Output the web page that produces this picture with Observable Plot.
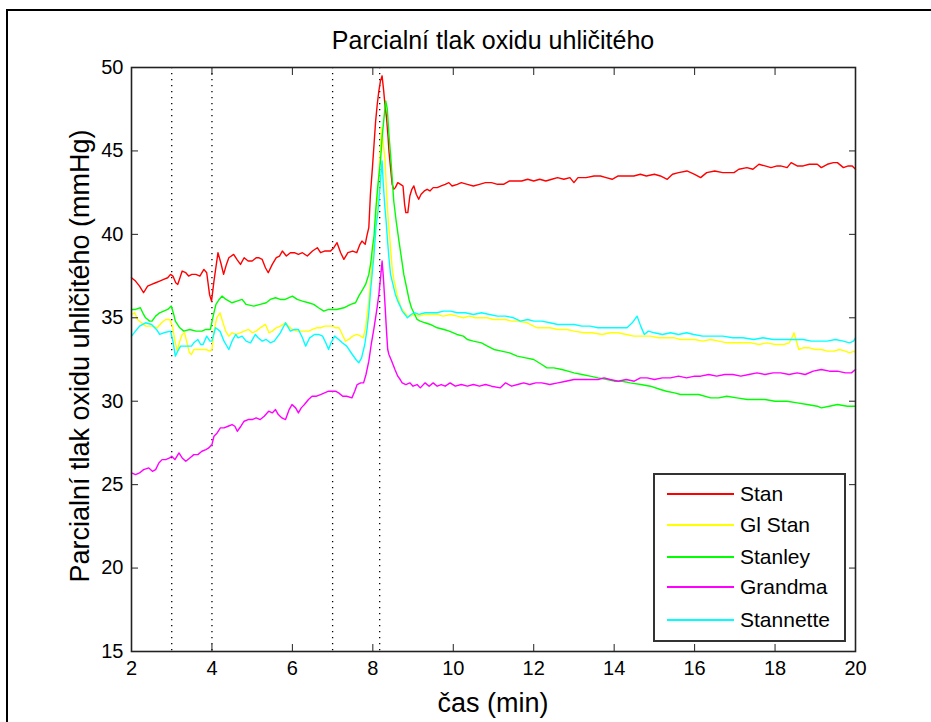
<!DOCTYPE html>
<html>
<head>
<meta charset="utf-8">
<script src="https://cdn.jsdelivr.net/npm/d3@7"></script>
<script src="https://cdn.jsdelivr.net/npm/@observablehq/plot@0.6"></script>
<style>
  html, body { margin: 0; padding: 0; background: #fff; }
  #wrap { position: relative; width: 931px; height: 722px; overflow: hidden; font-family: "Liberation Sans", Arial, sans-serif; }
  #outer { position: absolute; left: 6px; top: 9px; width: 1000px; height: 800px; border-top: 2px solid #000; border-left: 2px solid #000; }
  #chart { position: absolute; left: 0; top: 0; }
  .title { position: absolute; left: 131px; width: 724px; top: 25px; text-align: center; font-size: 25px; line-height: 30px; color: #000; white-space: nowrap; }
  .xlabel { position: absolute; left: 131px; width: 724px; top: 687px; text-align: center; font-size: 27px; line-height: 32px; color: #000; white-space: nowrap; }
  .ylabel { position: absolute; left: 80px; top: 356px; transform: translate(-50%, -50%) rotate(-90deg); font-size: 27px; line-height: 32px; white-space: nowrap; color: #000; }
  #legend { position: absolute; left: 653px; top: 473px; width: 189px; height: 165px; border: 2px solid #333; background: #fff; }
  .row { position: absolute; left: 0; height: 24px; width: 189px; }
  .row .sw { position: absolute; left: 12px; top: 11px; width: 67px; height: 2px; }
  .row .lb { position: absolute; left: 85px; top: 0; font-size: 21px; line-height: 24px; color: #000; white-space: nowrap; }
</style>
</head>
<body>
<div id="wrap">
  <div id="outer"></div>
  <div id="chart"></div>
  <div class="title" id="title"></div>
  <div class="xlabel" id="xlabel"></div>
  <div class="ylabel" id="ylabel"></div>
  <div id="legend"></div>
</div>
<script>
// ---- texts ----
const titleText = "Parcialní tlak oxidu uhličitého";
const xLabelText = "čas (min)";
const yLabelText = "Parcialní tlak oxidu uhličitého (mmHg)";

// ---- ticks ----
const xTicks = [2, 4, 6, 8, 10, 12, 14, 16, 18, 20];
const yTicks = [15, 20, 25, 30, 35, 40, 45, 50];

// ---- vertical dotted event markers (min) ----
const markerTimes = [3, 4, 7, 8.17];

// ---- series names & colours ----
const seriesNames = ["Stan", "Gl Stan", "Stanley", "Grandma", "Stannette"];
const seriesColors = ["#ff0000", "#ffff00", "#00ff00", "#ff00ff", "#00ffff"];

// ---- Stan (red) ----
const stanT = [2.0,2.1,2.2,2.3,2.4,2.5,2.6,2.7,2.8,2.9,2.97,3.03,3.1,3.15,3.26,3.35,3.42,3.5,3.6,3.7,3.8,3.87,3.94,3.99,4.05,4.15,4.22,4.29,4.36,4.42,4.54,4.62,4.71,4.8,4.9,5.0,5.1,5.16,5.25,5.33,5.4,5.5,5.6,5.68,5.75,5.85,5.95,6.05,6.15,6.25,6.37,6.5,6.62,6.7,6.8,6.95,7.03,7.11,7.2,7.28,7.38,7.5,7.6,7.68,7.73,7.81,7.86,7.9,7.94,7.99,8.03,8.07,8.11,8.15,8.19,8.23,8.27,8.3,8.34,8.38,8.4,8.44,8.48,8.52,8.56,8.62,8.69,8.75,8.79,8.82,8.87,8.92,8.97,9.02,9.08,9.14,9.2,9.28,9.35,9.42,9.5,9.6,9.7,9.8,9.89,9.97,10.1,10.2,10.35,10.5,10.65,10.8,10.95,11.1,11.25,11.4,11.55,11.7,11.85,12.0,12.15,12.3,12.45,12.59,12.75,12.9,13.0,13.1,13.3,13.5,13.66,13.8,13.95,14.1,14.3,14.49,14.65,14.8,15.0,15.15,15.32,15.45,15.6,15.81,16.0,16.15,16.3,16.5,16.7,16.98,17.1,17.3,17.45,17.6,17.75,17.9,18.05,18.14,18.3,18.4,18.55,18.7,18.85,19.05,19.15,19.3,19.45,19.55,19.7,19.82,19.92,20.0];
const stanV = [37.4,37.2,36.9,36.5,36.9,37.0,37.1,37.2,37.3,37.4,37.6,37.5,37.1,37.0,37.8,37.7,37.5,37.6,37.6,37.5,37.9,37.7,36.4,36.0,37.2,38.9,38.3,37.6,38.2,38.6,38.8,38.5,38.2,38.6,38.4,38.4,38.6,38.6,38.5,38.0,37.7,38.2,38.6,38.7,39.0,38.7,38.9,38.9,38.8,38.9,38.7,39.0,39.2,38.9,39.0,39.0,39.2,39.5,38.9,38.5,38.9,39.0,38.9,39.4,39.6,39.4,40.0,40.4,42.4,44.0,45.4,46.8,47.8,48.6,49.2,49.5,48.6,47.8,47.0,45.8,45.0,44.0,43.0,42.7,42.8,43.1,43.0,42.9,41.8,41.3,41.3,42.3,42.7,42.9,42.4,42.1,42.4,42.6,42.7,42.6,42.8,42.8,42.9,43.0,43.1,42.9,43.0,43.1,43.0,42.9,43.0,43.1,43.1,43.0,43.0,43.2,43.2,43.2,43.3,43.2,43.3,43.2,43.3,43.4,43.3,43.4,43.1,43.4,43.4,43.5,43.5,43.4,43.3,43.5,43.5,43.5,43.6,43.5,43.6,43.5,43.3,43.6,43.7,43.8,43.6,43.4,43.7,43.8,43.7,43.7,43.9,44.0,43.9,44.2,44.1,44.0,44.1,44.1,44.0,44.3,44.1,44.1,44.2,44.2,44.0,44.2,44.3,44.3,44.0,44.1,44.1,43.9];

// ---- Gl Stan (yellow) ----
const glT = [2.0,2.08,2.15,2.25,2.35,2.5,2.64,2.75,2.85,2.95,3.02,3.08,3.14,3.2,3.26,3.32,3.38,3.44,3.49,3.55,3.65,3.75,3.85,3.95,4.0,4.05,4.12,4.2,4.25,4.34,4.42,4.5,4.6,4.7,4.8,4.91,5.0,5.1,5.2,5.33,5.42,5.5,5.6,5.7,5.83,5.9,6.0,6.1,6.2,6.3,6.41,6.5,6.6,6.7,6.8,6.9,7.0,7.08,7.16,7.24,7.32,7.4,7.5,7.6,7.7,7.76,7.82,7.86,7.9,7.94,7.99,8.03,8.08,8.12,8.15,8.19,8.22,8.25,8.27,8.3,8.34,8.37,8.4,8.44,8.48,8.52,8.56,8.6,8.65,8.7,8.77,8.86,8.94,9.05,9.15,9.3,9.45,9.6,9.75,9.93,10.1,10.25,10.4,10.55,10.7,10.84,11.0,11.15,11.3,11.45,11.6,11.84,12.0,12.09,12.25,12.4,12.6,12.83,13.0,13.25,13.45,13.7,13.9,14.1,14.3,14.49,14.7,14.9,15.1,15.3,15.5,15.65,15.81,16.0,16.2,16.4,16.6,16.8,16.98,17.2,17.4,17.6,17.8,18.0,18.22,18.35,18.44,18.47,18.52,18.59,18.7,18.85,19.0,19.15,19.3,19.47,19.6,19.75,19.85,19.97,20.0];
const glV = [35.2,35.3,34.9,34.7,34.5,34.5,34.4,34.7,34.9,34.9,34.5,33.6,33.0,33.6,34.0,34.1,33.5,32.9,32.8,33.1,33.1,33.1,33.1,33.0,33.1,34.2,35.0,35.3,34.9,34.2,33.9,34.1,34.0,34.1,34.2,34.3,34.1,34.2,34.4,34.6,34.1,34.2,34.4,34.5,34.7,34.5,34.3,34.2,34.2,34.2,34.2,34.3,34.4,34.4,34.5,34.5,34.5,34.4,34.4,34.0,33.6,33.7,33.9,34.0,33.9,33.8,34.4,35.2,36.0,37.2,38.4,39.4,41.0,42.5,43.4,45.2,46.4,45.6,45.2,44.6,42.6,41.3,40.4,39.2,38.0,37.3,36.9,36.4,36.0,35.6,35.4,35.1,35.1,35.2,35.1,35.2,35.2,35.2,35.1,35.2,35.1,35.0,35.1,35.0,35.0,35.0,34.9,34.9,34.9,34.8,34.8,34.7,34.5,34.4,34.4,34.4,34.3,34.3,34.2,34.1,34.1,34.0,34.1,34.1,34.0,33.9,33.9,33.9,33.8,33.8,33.8,33.7,33.7,33.7,33.6,33.7,33.6,33.5,33.5,33.5,33.5,33.4,33.5,33.4,33.4,33.5,33.9,34.1,33.7,33.1,33.2,33.2,33.1,33.1,33.0,33.0,33.1,33.0,32.9,33.0,32.9];

// ---- Stanley (green) ----
const stanleyT = [2.0,2.1,2.22,2.3,2.35,2.45,2.51,2.6,2.7,2.8,2.9,2.99,3.05,3.09,3.2,3.3,3.45,3.6,3.75,3.85,3.96,4.04,4.1,4.18,4.25,4.35,4.5,4.62,4.75,4.85,5.04,5.2,5.35,5.45,5.58,5.7,5.82,6.0,6.12,6.25,6.4,6.53,6.65,6.78,6.9,7.1,7.28,7.45,7.57,7.65,7.75,7.82,7.9,7.95,7.99,8.03,8.07,8.12,8.19,8.23,8.27,8.32,8.36,8.4,8.44,8.48,8.52,8.58,8.65,8.71,8.77,8.84,8.9,8.96,9.02,9.1,9.18,9.3,9.43,9.6,9.77,9.9,10.09,10.25,10.35,10.5,10.7,10.85,11.01,11.2,11.4,11.59,11.8,12.0,12.2,12.33,12.5,12.7,12.85,13.0,13.2,13.4,13.6,13.83,14.0,14.2,14.4,14.66,14.9,15.15,15.3,15.5,15.65,15.85,16.1,16.4,16.6,16.8,17.05,17.31,17.55,17.75,18.0,18.3,18.55,18.8,19.05,19.15,19.35,19.55,19.8,20.0];
const stanleyV = [35.5,35.5,35.6,35.2,35.0,34.8,34.8,35.1,35.3,35.4,35.5,35.7,35.2,34.8,34.4,34.2,34.3,34.2,34.2,34.3,34.3,35.2,35.8,36.1,36.3,36.1,35.9,36.0,36.1,35.8,35.7,35.8,35.9,36.1,36.2,36.1,36.1,36.3,36.1,36.0,35.9,35.8,35.6,35.4,35.5,35.5,35.6,35.8,35.9,36.3,36.7,37.0,37.6,38.3,39.2,39.9,41.4,42.8,44.4,45.8,46.8,48.0,47.5,46.0,44.8,43.4,42.0,40.8,39.6,38.6,37.6,36.8,36.1,35.6,35.3,34.9,34.8,34.7,34.6,34.4,34.3,34.2,34.0,33.9,33.7,33.6,33.5,33.3,33.1,33.0,32.9,32.7,32.6,32.5,32.2,32.0,32.0,31.9,31.8,31.7,31.6,31.5,31.4,31.3,31.2,31.2,31.1,31.0,30.9,30.7,30.6,30.5,30.4,30.4,30.4,30.2,30.2,30.3,30.2,30.1,30.1,30.1,30.0,30.0,29.9,29.8,29.7,29.6,29.7,29.8,29.7,29.7];

// ---- Grandma (magenta) ----
const grandmaT = [2.0,2.1,2.2,2.3,2.43,2.52,2.6,2.68,2.76,2.85,2.95,3.0,3.08,3.18,3.26,3.35,3.45,3.55,3.65,3.75,3.85,3.92,4.0,4.05,4.13,4.21,4.3,4.4,4.5,4.57,4.63,4.72,4.8,4.9,5.0,5.1,5.2,5.3,5.41,5.5,5.58,5.65,5.74,5.83,5.92,5.99,6.08,6.15,6.22,6.3,6.4,6.49,6.6,6.7,6.8,6.9,7.0,7.07,7.15,7.25,7.35,7.48,7.55,7.61,7.7,7.77,7.83,7.9,7.96,8.03,8.1,8.15,8.2,8.23,8.26,8.3,8.34,8.37,8.4,8.47,8.55,8.62,8.68,8.73,8.82,8.92,9.0,9.1,9.18,9.3,9.4,9.5,9.6,9.7,9.8,9.92,10.05,10.2,10.35,10.5,10.65,10.8,10.95,11.17,11.3,11.45,11.6,11.75,11.9,12.05,12.2,12.4,12.6,12.8,13.0,13.25,13.45,13.6,13.75,13.9,14.1,14.3,14.5,14.65,14.82,15.0,15.2,15.4,15.6,15.8,16.0,16.15,16.35,16.55,16.75,16.95,17.15,17.35,17.55,17.75,17.95,18.14,18.35,18.55,18.75,18.95,19.15,19.35,19.55,19.75,19.9,20.0];
const grandmaV = [25.7,25.6,25.7,25.9,26.0,25.8,25.9,26.3,26.5,26.5,26.6,26.7,26.5,26.9,26.6,26.4,26.6,26.8,26.8,27.0,27.1,27.2,27.4,27.9,28.1,28.4,28.4,28.5,28.6,28.5,28.2,28.5,28.8,28.9,28.9,29.0,28.9,29.1,29.4,29.3,29.5,29.2,29.0,28.9,29.5,29.8,29.6,29.3,29.6,29.8,30.1,30.3,30.3,30.4,30.5,30.6,30.6,30.6,30.5,30.3,30.3,30.2,30.6,31.0,31.1,31.1,31.6,32.4,33.4,34.4,35.5,36.4,37.6,38.4,37.5,35.9,34.2,33.1,32.8,32.4,31.9,31.5,31.3,31.1,31.0,31.1,30.9,31.0,30.8,31.1,30.9,31.1,30.9,31.0,30.9,31.1,30.9,31.0,30.9,31.0,30.9,31.0,30.9,30.8,31.1,30.9,31.0,31.1,31.0,31.1,31.1,31.0,31.1,31.2,31.3,31.3,31.3,31.3,31.4,31.3,31.2,31.3,31.2,31.4,31.4,31.3,31.4,31.4,31.5,31.4,31.5,31.5,31.6,31.5,31.6,31.6,31.5,31.6,31.7,31.6,31.7,31.7,31.6,31.7,31.6,31.8,31.9,31.8,31.8,31.7,31.7,31.9];

// ---- Stannette (cyan) ----
const stannetteT = [2.0,2.1,2.2,2.35,2.5,2.62,2.7,2.8,2.97,3.03,3.09,3.15,3.22,3.35,3.49,3.55,3.65,3.72,3.78,3.87,3.95,4.0,4.09,4.2,4.3,4.42,4.5,4.59,4.65,4.75,4.85,4.96,5.08,5.15,5.25,5.35,5.45,5.55,5.7,5.83,5.95,6.05,6.15,6.25,6.33,6.43,6.55,6.65,6.75,6.83,6.9,6.96,7.05,7.15,7.24,7.35,7.49,7.58,7.65,7.72,7.8,7.86,7.9,7.95,7.99,8.03,8.08,8.12,8.15,8.19,8.23,8.26,8.3,8.33,8.36,8.4,8.44,8.5,8.56,8.62,8.68,8.73,8.8,8.86,8.95,9.05,9.15,9.3,9.45,9.6,9.75,9.93,10.1,10.3,10.5,10.7,10.9,11.1,11.3,11.5,11.67,11.85,12.0,12.2,12.4,12.6,12.83,13.0,13.2,13.4,13.6,13.8,14.0,14.2,14.32,14.45,14.57,14.66,14.75,14.85,15.0,15.2,15.4,15.6,15.8,15.98,16.2,16.45,16.7,16.95,17.2,17.47,17.7,17.95,18.2,18.45,18.7,18.9,19.05,19.3,19.5,19.7,19.85,19.95,20.0];
const stannetteV = [33.9,34.2,34.5,34.7,34.6,34.3,34.0,34.1,34.2,33.6,32.7,33.0,33.3,33.3,33.3,33.5,33.7,33.4,33.4,33.9,33.6,33.6,34.4,34.2,33.6,33.1,33.6,34.0,33.8,33.9,33.6,33.5,34.0,33.8,33.6,33.7,33.5,33.6,34.1,34.7,34.2,34.3,34.3,33.8,33.3,33.8,34.0,34.0,33.9,33.5,33.1,33.5,33.9,33.7,33.5,33.3,32.8,32.5,32.3,32.6,33.4,34.4,35.3,36.8,37.8,38.8,40.5,41.2,42.0,43.2,44.4,43.0,41.6,40.8,39.8,38.6,37.6,37.0,36.4,36.0,35.7,35.4,35.2,35.0,35.2,35.3,35.2,35.3,35.3,35.3,35.4,35.4,35.3,35.3,35.2,35.3,35.2,35.1,35.1,35.0,34.8,34.9,34.8,34.8,34.7,34.6,34.6,34.6,34.5,34.5,34.4,34.4,34.4,34.4,34.4,34.7,35.1,34.5,34.0,34.2,34.1,34.0,34.1,34.0,34.1,34.0,33.9,33.9,33.9,33.8,33.8,33.7,33.8,33.7,33.7,33.7,33.7,33.6,33.6,33.6,33.7,33.6,33.5,33.6,33.8];

// ---- build tables ----
const seriesT = [stanT, glT, stanleyT, grandmaT, stannetteT];
const seriesV = [stanV, glV, stanleyV, grandmaV, stannetteV];
const tables = seriesT.map((T, i) => T.map((t, j) => ({t, v: seriesV[i][j]})));

const lineMarks = tables.map((tab, i) =>
  Plot.line(tab, {x: "t", y: "v", stroke: seriesColors[i], strokeWidth: 1.4, strokeLinejoin: "round"})
);

const chart = Plot.plot({
  width: 931,
  height: 722,
  marginLeft: 131,
  marginRight: 76,
  marginTop: 67,
  marginBottom: 71,
  style: {fontFamily: "'Liberation Sans', Arial, sans-serif", fontSize: "20px", color: "#000", background: "transparent", overflow: "visible"},
  x: {domain: [2, 20]},
  y: {domain: [15, 50]},
  marks: [
    Plot.ruleX(markerTimes, {stroke: "#000", strokeWidth: 1.3, strokeDasharray: "1.3,4.7"}),
    ...lineMarks,
    Plot.frame({stroke: "#222", strokeWidth: 1.6}),
    Plot.axisX(xTicks, {anchor: "bottom", tickSize: -7, tickPadding: 16, label: null, fontSize: 20, stroke: "#222"}),
    Plot.axisX(xTicks, {anchor: "top", tickSize: -7, tickFormat: () => "", label: null, stroke: "#222"}),
    Plot.axisY(yTicks, {anchor: "left", tickSize: -7, tickPadding: 15, label: null, fontSize: 20, stroke: "#222"}),
    Plot.axisY(yTicks, {anchor: "right", tickSize: -7, tickFormat: () => "", label: null, stroke: "#222"})
  ]
});
document.getElementById("chart").appendChild(chart);

document.getElementById("title").textContent = titleText;
document.getElementById("xlabel").textContent = xLabelText;
document.getElementById("ylabel").textContent = yLabelText;

const legend = document.getElementById("legend");
const rowTops = [7, 38, 70, 100, 133];
seriesNames.forEach((name, i) => {
  const row = document.createElement("div");
  row.className = "row";
  row.style.top = rowTops[i] + "px";
  const sw = document.createElement("div");
  sw.className = "sw";
  sw.style.backgroundColor = seriesColors[i];
  const lb = document.createElement("div");
  lb.className = "lb";
  lb.textContent = name;
  row.appendChild(sw);
  row.appendChild(lb);
  legend.appendChild(row);
});
</script>
</body>
</html>
